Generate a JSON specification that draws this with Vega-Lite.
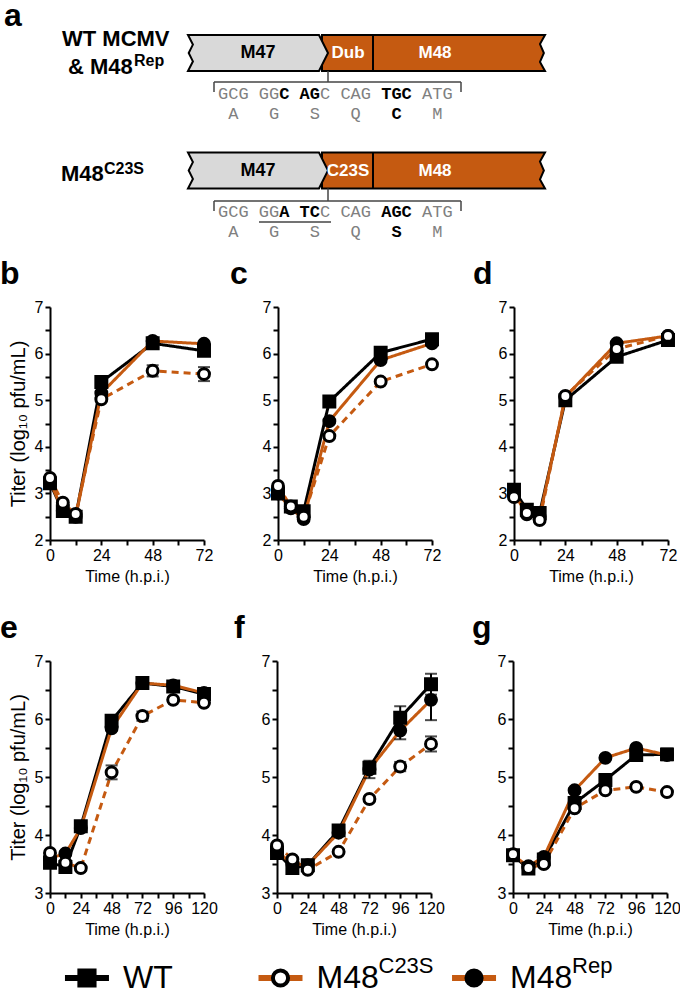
{
"$schema":"https://vega.github.io/schema/vega-lite/v6.json",
"padding":0,
"background":"white",
"columns":1,
"align":"none",
"spacing":18,
"resolve":{"scale":{"x":"independent","y":"independent"}},
"config":{
 "view":{"stroke":null},
 "font":"Liberation Sans",
 "legend":{"disable":true},
 "title":{"fontSize":32,"fontWeight":"bold","anchor":"start","frame":"group","offset":8,"color":"black","font":"Liberation Sans"},
 "axis":{"domainColor":"black","domainWidth":2,"tickColor":"black","tickWidth":2,"tickSize":5,"labelFontSize":16,"labelColor":"black","labelPadding":2,"titleFontSize":16,"titleFontWeight":"normal","titleColor":"black","grid":false,"labelOverlap":false,"labelFont":"Liberation Sans","titleFont":"Liberation Sans"},
 "axisX":{"titlePadding":5,"labelFlush":false},
 "axisY":{"titlePadding":6,"titleFontSize":20}
},
"datasets":{
 "growth":[
  {"panel":"b","virus":"WT","time":0,"titer":3.22,"err":0.04},{"panel":"b","virus":"WT","time":6,"titer":2.62,"err":0.04},{"panel":"b","virus":"WT","time":12,"titer":2.5,"err":0.04},{"panel":"b","virus":"WT","time":24,"titer":5.39,"err":0.04},{"panel":"b","virus":"WT","time":48,"titer":6.22,"err":0.04},{"panel":"b","virus":"WT","time":72,"titer":6.06,"err":0.04},
  {"panel":"b","virus":"M48Rep","time":0,"titer":3.26,"err":0.04},{"panel":"b","virus":"M48Rep","time":6,"titer":2.62,"err":0.04},{"panel":"b","virus":"M48Rep","time":12,"titer":2.5,"err":0.04},{"panel":"b","virus":"M48Rep","time":24,"titer":5.15,"err":0.04},{"panel":"b","virus":"M48Rep","time":48,"titer":6.27,"err":0.04},{"panel":"b","virus":"M48Rep","time":72,"titer":6.21,"err":0.04},
  {"panel":"b","virus":"M48C23S","time":0,"titer":3.33,"err":0.04},{"panel":"b","virus":"M48C23S","time":6,"titer":2.8,"err":0.04},{"panel":"b","virus":"M48C23S","time":12,"titer":2.56,"err":0.04},{"panel":"b","virus":"M48C23S","time":24,"titer":5.02,"err":0.04},{"panel":"b","virus":"M48C23S","time":48,"titer":5.63,"err":0.12},{"panel":"b","virus":"M48C23S","time":72,"titer":5.56,"err":0.15},
  {"panel":"c","virus":"WT","time":0,"titer":3.0,"err":0.04},{"panel":"c","virus":"WT","time":6,"titer":2.72,"err":0.04},{"panel":"c","virus":"WT","time":12,"titer":2.62,"err":0.04},{"panel":"c","virus":"WT","time":24,"titer":4.97,"err":0.04},{"panel":"c","virus":"WT","time":48,"titer":6.02,"err":0.04},{"panel":"c","virus":"WT","time":72,"titer":6.31,"err":0.04},
  {"panel":"c","virus":"M48Rep","time":0,"titer":3.0,"err":0.04},{"panel":"c","virus":"M48Rep","time":6,"titer":2.68,"err":0.04},{"panel":"c","virus":"M48Rep","time":12,"titer":2.45,"err":0.04},{"panel":"c","virus":"M48Rep","time":24,"titer":4.55,"err":0.04},{"panel":"c","virus":"M48Rep","time":48,"titer":5.86,"err":0.04},{"panel":"c","virus":"M48Rep","time":72,"titer":6.22,"err":0.04},
  {"panel":"c","virus":"M48C23S","time":0,"titer":3.16,"err":0.04},{"panel":"c","virus":"M48C23S","time":6,"titer":2.72,"err":0.04},{"panel":"c","virus":"M48C23S","time":12,"titer":2.5,"err":0.04},{"panel":"c","virus":"M48C23S","time":24,"titer":4.23,"err":0.04},{"panel":"c","virus":"M48C23S","time":48,"titer":5.4,"err":0.04},{"panel":"c","virus":"M48C23S","time":72,"titer":5.77,"err":0.04},
  {"panel":"d","virus":"WT","time":0,"titer":3.08,"err":0.04},{"panel":"d","virus":"WT","time":6,"titer":2.65,"err":0.04},{"panel":"d","virus":"WT","time":12,"titer":2.58,"err":0.04},{"panel":"d","virus":"WT","time":24,"titer":5.0,"err":0.04},{"panel":"d","virus":"WT","time":48,"titer":5.93,"err":0.04},{"panel":"d","virus":"WT","time":72,"titer":6.29,"err":0.04},
  {"panel":"d","virus":"M48Rep","time":0,"titer":3.0,"err":0.04},{"panel":"d","virus":"M48Rep","time":6,"titer":2.55,"err":0.04},{"panel":"d","virus":"M48Rep","time":12,"titer":2.5,"err":0.04},{"panel":"d","virus":"M48Rep","time":24,"titer":5.07,"err":0.04},{"panel":"d","virus":"M48Rep","time":48,"titer":6.22,"err":0.04},{"panel":"d","virus":"M48Rep","time":72,"titer":6.38,"err":0.04},
  {"panel":"d","virus":"M48C23S","time":0,"titer":2.92,"err":0.04},{"panel":"d","virus":"M48C23S","time":6,"titer":2.58,"err":0.04},{"panel":"d","virus":"M48C23S","time":12,"titer":2.43,"err":0.04},{"panel":"d","virus":"M48C23S","time":24,"titer":5.09,"err":0.04},{"panel":"d","virus":"M48C23S","time":48,"titer":6.1,"err":0.04},{"panel":"d","virus":"M48C23S","time":72,"titer":6.38,"err":0.04},
  {"panel":"e","virus":"WT","time":0,"titer":3.52,"err":0.04},{"panel":"e","virus":"WT","time":12,"titer":3.45,"err":0.04},{"panel":"e","virus":"WT","time":24,"titer":4.15,"err":0.04},{"panel":"e","virus":"WT","time":48,"titer":5.97,"err":0.04},{"panel":"e","virus":"WT","time":72,"titer":6.62,"err":0.04},{"panel":"e","virus":"WT","time":96,"titer":6.56,"err":0.04},{"panel":"e","virus":"WT","time":120,"titer":6.43,"err":0.04},
  {"panel":"e","virus":"M48Rep","time":0,"titer":3.6,"err":0.04},{"panel":"e","virus":"M48Rep","time":12,"titer":3.68,"err":0.04},{"panel":"e","virus":"M48Rep","time":24,"titer":4.12,"err":0.04},{"panel":"e","virus":"M48Rep","time":48,"titer":5.84,"err":0.04},{"panel":"e","virus":"M48Rep","time":72,"titer":6.62,"err":0.04},{"panel":"e","virus":"M48Rep","time":96,"titer":6.58,"err":0.04},{"panel":"e","virus":"M48Rep","time":120,"titer":6.45,"err":0.04},
  {"panel":"e","virus":"M48C23S","time":0,"titer":3.69,"err":0.04},{"panel":"e","virus":"M48C23S","time":12,"titer":3.52,"err":0.04},{"panel":"e","virus":"M48C23S","time":24,"titer":3.43,"err":0.04},{"panel":"e","virus":"M48C23S","time":48,"titer":5.08,"err":0.12},{"panel":"e","virus":"M48C23S","time":72,"titer":6.05,"err":0.08},{"panel":"e","virus":"M48C23S","time":96,"titer":6.33,"err":0.04},{"panel":"e","virus":"M48C23S","time":120,"titer":6.28,"err":0.04},
  {"panel":"f","virus":"WT","time":0,"titer":3.69,"err":0.04},{"panel":"f","virus":"WT","time":12,"titer":3.43,"err":0.04},{"panel":"f","virus":"WT","time":24,"titer":3.48,"err":0.04},{"panel":"f","virus":"WT","time":48,"titer":4.08,"err":0.04},{"panel":"f","virus":"WT","time":72,"titer":5.16,"err":0.04},{"panel":"f","virus":"WT","time":96,"titer":6.02,"err":0.2},{"panel":"f","virus":"WT","time":120,"titer":6.6,"err":0.18},
  {"panel":"f","virus":"M48Rep","time":0,"titer":3.72,"err":0.04},{"panel":"f","virus":"M48Rep","time":12,"titer":3.5,"err":0.04},{"panel":"f","virus":"M48Rep","time":24,"titer":3.48,"err":0.04},{"panel":"f","virus":"M48Rep","time":48,"titer":4.04,"err":0.04},{"panel":"f","virus":"M48Rep","time":72,"titer":5.13,"err":0.15},{"panel":"f","virus":"M48Rep","time":96,"titer":5.8,"err":0.15},{"panel":"f","virus":"M48Rep","time":120,"titer":6.33,"err":0.35},
  {"panel":"f","virus":"M48C23S","time":0,"titer":3.82,"err":0.04},{"panel":"f","virus":"M48C23S","time":12,"titer":3.58,"err":0.04},{"panel":"f","virus":"M48C23S","time":24,"titer":3.4,"err":0.04},{"panel":"f","virus":"M48C23S","time":48,"titer":3.71,"err":0.04},{"panel":"f","virus":"M48C23S","time":72,"titer":4.62,"err":0.04},{"panel":"f","virus":"M48C23S","time":96,"titer":5.18,"err":0.08},{"panel":"f","virus":"M48C23S","time":120,"titer":5.57,"err":0.13},
  {"panel":"g","virus":"WT","time":0,"titer":3.65,"err":0.04},{"panel":"g","virus":"WT","time":12,"titer":3.42,"err":0.04},{"panel":"g","virus":"WT","time":24,"titer":3.58,"err":0.04},{"panel":"g","virus":"WT","time":48,"titer":4.55,"err":0.04},{"panel":"g","virus":"WT","time":72,"titer":4.95,"err":0.1},{"panel":"g","virus":"WT","time":96,"titer":5.38,"err":0.04},{"panel":"g","virus":"WT","time":120,"titer":5.39,"err":0.1},
  {"panel":"g","virus":"M48Rep","time":0,"titer":3.65,"err":0.04},{"panel":"g","virus":"M48Rep","time":12,"titer":3.46,"err":0.04},{"panel":"g","virus":"M48Rep","time":24,"titer":3.62,"err":0.04},{"panel":"g","virus":"M48Rep","time":48,"titer":4.77,"err":0.04},{"panel":"g","virus":"M48Rep","time":72,"titer":5.33,"err":0.04},{"panel":"g","virus":"M48Rep","time":96,"titer":5.5,"err":0.04},{"panel":"g","virus":"M48Rep","time":120,"titer":5.38,"err":0.08},
  {"panel":"g","virus":"M48C23S","time":0,"titer":3.67,"err":0.04},{"panel":"g","virus":"M48C23S","time":12,"titer":3.43,"err":0.04},{"panel":"g","virus":"M48C23S","time":24,"titer":3.5,"err":0.04},{"panel":"g","virus":"M48C23S","time":48,"titer":4.46,"err":0.04},{"panel":"g","virus":"M48C23S","time":72,"titer":4.77,"err":0.04},{"panel":"g","virus":"M48C23S","time":96,"titer":4.83,"err":0.04},{"panel":"g","virus":"M48C23S","time":120,"titer":4.74,"err":0.04}
 ],
 "cells":[
  {"panel":"b","cell":"NIH3T3:"},{"panel":"c","cell":"SVEC4-10:"},{"panel":"d","cell":"RAW264.7:"},
  {"panel":"e","cell":"NIH3T3:"},{"panel":"f","cell":"SVEC4-10:"},{"panel":"g","cell":"RAW264.7:"}
 ],
 "genes":[
  {"part":"orf","x":433.5,"y":49},{"part":"orf","x":433.5,"y":166.5},
  {"part":"m47","x":258,"y":49},{"part":"m47","x":258,"y":166.5}
 ],
 "segments":[
  {"kind":"divider","x":373,"x2":373,"y":31,"y2":67},
  {"kind":"divider","x":373,"x2":373,"y":148.5,"y2":184.5},
  {"kind":"line","x":328,"x2":328,"y":67,"y2":78},
  {"kind":"line","x":214,"x2":461,"y":78,"y2":78},
  {"kind":"line","x":214,"x2":214,"y":78,"y2":88},
  {"kind":"line","x":461,"x2":461,"y":78,"y2":88},
  {"kind":"line","x":328,"x2":328,"y":184.5,"y2":197},
  {"kind":"line","x":214,"x2":461,"y":197,"y2":197},
  {"kind":"line","x":214,"x2":214,"y":197,"y2":207},
  {"kind":"line","x":461,"x2":461,"y":197,"y2":207},
  {"kind":"line","x":259,"x2":331,"y":218,"y2":218}
 ],
 "alabels":[
  {"role":"panel","text":"a","x":4,"y":22},
  {"role":"track","text":"WT MCMV","x":62,"y":42},
  {"role":"track","text":"& M48","x":68,"y":70},
  {"role":"track","text":"M48","x":61,"y":177},
  {"role":"sup","text":"Rep","x":134,"y":62},
  {"role":"sup","text":"C23S","x":104,"y":170},
  {"role":"gene","text":"M47","x":258,"y":49},
  {"role":"gene","text":"M47","x":258,"y":166.5},
  {"role":"domain","text":"Dub","x":348,"y":49},
  {"role":"domain","text":"M48","x":435,"y":49},
  {"role":"domain","text":"C23S","x":348,"y":166.5},
  {"role":"domain","text":"M48","x":435,"y":166.5}
 ],
 "seq":[
  {"style":"reg","text":"GCG\u00a0GG","x":218,"y":90},
  {"style":"bold","text":"C\u00a0AG","x":279.2,"y":90},
  {"style":"reg","text":"C\u00a0CAG","x":320,"y":90},
  {"style":"bold","text":"TGC","x":381.2,"y":90},
  {"style":"reg","text":"ATG","x":422,"y":90},
  {"style":"reg","text":"A\u00a0\u00a0\u00a0G\u00a0\u00a0\u00a0S\u00a0\u00a0\u00a0Q","x":228.2,"y":110},
  {"style":"bold","text":"C","x":391.4,"y":110},
  {"style":"reg","text":"M","x":432.2,"y":110},
  {"style":"reg","text":"GCG\u00a0GG","x":218,"y":208},
  {"style":"bold","text":"A\u00a0TC","x":279.2,"y":208},
  {"style":"reg","text":"C\u00a0CAG","x":320,"y":208},
  {"style":"bold","text":"AGC","x":381.2,"y":208},
  {"style":"reg","text":"ATG","x":422,"y":208},
  {"style":"reg","text":"A\u00a0\u00a0\u00a0G\u00a0\u00a0\u00a0S\u00a0\u00a0\u00a0Q","x":228.2,"y":228},
  {"style":"bold","text":"S","x":391.4,"y":228},
  {"style":"reg","text":"M","x":432.2,"y":228}
 ],
 "legend":[
  {"virus":"WT","label":"WT","sup":""},
  {"virus":"M48C23S","label":"M48","sup":"C23S"},
  {"virus":"M48Rep","label":"M48","sup":"Rep"}
 ]
},
"concat":[
 {
  "width":630,"height":236,
  "encoding":{
   "x":{"field":"x","type":"quantitative","scale":{"domain":[50,680],"nice":false,"zero":false},"axis":null},
   "y":{"field":"y","type":"quantitative","scale":{"domain":[0,236],"nice":false,"zero":false,"reverse":true},"axis":null}
  },
  "layer":[
   {"data":{"name":"genes"},"transform":[{"filter":"datum.part === 'orf'"}],
    "mark":{"type":"point","shape":"M-1,-0.1614L1,-0.1614L0.955,-0.08L0.99,0L0.955,0.08L1,0.1614L-1,0.1614Z","size":49729,"filled":true,"fill":"#C55A11","stroke":"black","strokeWidth":2,"opacity":1}},
   {"data":{"name":"genes"},"transform":[{"filter":"datum.part === 'm47'"}],
    "mark":{"type":"point","shape":"M-1,-0.257L0.871,-0.257L1,0L0.871,0.257L-1,0.257L-0.93,0.12L-0.99,0L-0.93,-0.12Z","size":19600,"filled":true,"fill":"#D9D9D9","stroke":"black","strokeWidth":2,"opacity":1}},
   {"data":{"name":"segments"},"transform":[{"filter":"datum.kind === 'divider'"}],
    "mark":{"type":"rule","color":"black","strokeWidth":2},
    "encoding":{"x2":{"field":"x2"},"y2":{"field":"y2"}}},
   {"data":{"name":"segments"},"transform":[{"filter":"datum.kind === 'line'"}],
    "mark":{"type":"rule","color":"#444444","strokeWidth":1.5},
    "encoding":{"x2":{"field":"x2"},"y2":{"field":"y2"}}},
   {"data":{"name":"alabels"},"transform":[{"filter":"datum.role === 'panel'"}],
    "mark":{"type":"text","align":"left","baseline":"alphabetic","fontSize":32,"fontWeight":"bold","color":"black"},
    "encoding":{"text":{"field":"text"}}},
   {"data":{"name":"alabels"},"transform":[{"filter":"datum.role === 'track'"}],
    "mark":{"type":"text","align":"left","baseline":"alphabetic","fontSize":22,"fontWeight":"bold","color":"black"},
    "encoding":{"text":{"field":"text"}}},
   {"data":{"name":"alabels"},"transform":[{"filter":"datum.role === 'sup'"}],
    "mark":{"type":"text","align":"left","baseline":"alphabetic","fontSize":16,"fontWeight":"bold","color":"black"},
    "encoding":{"text":{"field":"text"}}},
   {"data":{"name":"alabels"},"transform":[{"filter":"datum.role === 'gene'"}],
    "mark":{"type":"text","align":"center","baseline":"middle","fontSize":18,"fontWeight":"bold","color":"black"},
    "encoding":{"text":{"field":"text"}}},
   {"data":{"name":"alabels"},"transform":[{"filter":"datum.role === 'domain'"}],
    "mark":{"type":"text","align":"center","baseline":"middle","fontSize":17,"fontWeight":"bold","color":"white"},
    "encoding":{"text":{"field":"text"}}},
   {"data":{"name":"seq"},"transform":[{"filter":"datum.style === 'reg'"}],
    "mark":{"type":"text","align":"left","baseline":"middle","fontSize":17,"font":"Liberation Mono","color":"#808080"},
    "encoding":{"text":{"field":"text"}}},
   {"data":{"name":"seq"},"transform":[{"filter":"datum.style === 'bold'"}],
    "mark":{"type":"text","align":"left","baseline":"middle","fontSize":17,"font":"Liberation Mono","fontWeight":"bold","color":"black"},
    "encoding":{"text":{"field":"text"}}}
  ]
 },
 {
  "columns":1,
  "align":"none",
  "spacing":28,
  "resolve":{"scale":{"x":"independent","y":"independent"}},
  "concat":[
   {
    "spacing":14,
    "resolve":{"scale":{"x":"independent","y":"independent"}},
    "hconcat":[
     {
      "width":154,"height":233,
      "title":{"text":"b","dx":-50},
      "data":{"name":"growth"},
      "transform":[{"filter":"datum.panel === 'b'"}],
      "encoding":{
       "x":{"field":"time","type":"quantitative","scale":{"domain":[0,72],"nice":false},"axis":{"values":[0,12,24,36,48,60,72],"labelExpr":"datum.value % 24 === 0 ? datum.label : ''","title":"Time (h.p.i.)"}},
       "y":{"field":"titer","type":"quantitative","scale":{"domain":[2,7],"nice":false,"zero":false},"axis":{"values":[2,2.5,3,3.5,4,4.5,5,5.5,6,6.5,7],"labelExpr":"datum.value % 1 === 0 ? '' + datum.value : ''","title":"Titer (log\u2081\u2080 pfu/mL)"}}
      },
      "layer":[
       {"mark":{"type":"line","strokeWidth":3},"encoding":{"color":{"field":"virus","type":"nominal","scale":{"domain":["WT","M48C23S","M48Rep"],"range":["#000000","#C55A11","#C55A11"]}},"strokeDash":{"field":"virus","type":"nominal","scale":{"domain":["WT","M48C23S","M48Rep"],"range":[[1,0],[7,5],[1,0]]}}}},
       {"mark":{"type":"errorbar","ticks":{"size":12,"thickness":2,"color":"black"},"thickness":2,"color":"black"},"encoding":{"yError":{"field":"err"}}},
       {"mark":{"type":"point","size":120,"filled":true,"stroke":"black","strokeWidth":3,"opacity":1},"encoding":{"shape":{"field":"virus","type":"nominal","scale":{"domain":["WT","M48C23S","M48Rep"],"range":["square","circle","circle"]}},"fill":{"field":"virus","type":"nominal","scale":{"domain":["WT","M48C23S","M48Rep"],"range":["#000000","#ffffff","#000000"]}}}},
       {"data":{"name":"cells"},"transform":[{"filter":"datum.panel === 'b'"}],"mark":{"type":"text","align":"left","baseline":"alphabetic","dx":7,"dy":20,"fontSize":16,"color":"black"},"encoding":{"x":{"datum":0},"y":{"datum":7},"text":{"field":"cell"}}}
      ]
     },
     {
      "spacing":29,
      "resolve":{"scale":{"x":"independent","y":"independent"}},
      "hconcat":[
       {
        "width":154,"height":233,
        "title":{"text":"c","dx":-48},
        "data":{"name":"growth"},
        "transform":[{"filter":"datum.panel === 'c'"}],
        "encoding":{
         "x":{"field":"time","type":"quantitative","scale":{"domain":[0,72],"nice":false},"axis":{"values":[0,12,24,36,48,60,72],"labelExpr":"datum.value % 24 === 0 ? datum.label : ''","title":"Time (h.p.i.)"}},
         "y":{"field":"titer","type":"quantitative","scale":{"domain":[2,7],"nice":false,"zero":false},"axis":{"values":[2,2.5,3,3.5,4,4.5,5,5.5,6,6.5,7],"labelExpr":"datum.value % 1 === 0 ? '' + datum.value : ''","title":null}}
        },
        "layer":[
         {"mark":{"type":"line","strokeWidth":3},"encoding":{"color":{"field":"virus","type":"nominal","scale":{"domain":["WT","M48C23S","M48Rep"],"range":["#000000","#C55A11","#C55A11"]}},"strokeDash":{"field":"virus","type":"nominal","scale":{"domain":["WT","M48C23S","M48Rep"],"range":[[1,0],[7,5],[1,0]]}}}},
         {"mark":{"type":"errorbar","ticks":{"size":12,"thickness":2,"color":"black"},"thickness":2,"color":"black"},"encoding":{"yError":{"field":"err"}}},
         {"mark":{"type":"point","size":120,"filled":true,"stroke":"black","strokeWidth":3,"opacity":1},"encoding":{"shape":{"field":"virus","type":"nominal","scale":{"domain":["WT","M48C23S","M48Rep"],"range":["square","circle","circle"]}},"fill":{"field":"virus","type":"nominal","scale":{"domain":["WT","M48C23S","M48Rep"],"range":["#000000","#ffffff","#000000"]}}}},
         {"data":{"name":"cells"},"transform":[{"filter":"datum.panel === 'c'"}],"mark":{"type":"text","align":"left","baseline":"alphabetic","dx":7,"dy":20,"fontSize":16,"color":"black"},"encoding":{"x":{"datum":0},"y":{"datum":7},"text":{"field":"cell"}}}
        ]
       },
       {
        "width":154,"height":233,
        "title":{"text":"d","dx":-41},
        "data":{"name":"growth"},
        "transform":[{"filter":"datum.panel === 'd'"}],
        "encoding":{
         "x":{"field":"time","type":"quantitative","scale":{"domain":[0,72],"nice":false},"axis":{"values":[0,12,24,36,48,60,72],"labelExpr":"datum.value % 24 === 0 ? datum.label : ''","title":"Time (h.p.i.)"}},
         "y":{"field":"titer","type":"quantitative","scale":{"domain":[2,7],"nice":false,"zero":false},"axis":{"values":[2,2.5,3,3.5,4,4.5,5,5.5,6,6.5,7],"labelExpr":"datum.value % 1 === 0 ? '' + datum.value : ''","title":null}}
        },
        "layer":[
         {"mark":{"type":"line","strokeWidth":3},"encoding":{"color":{"field":"virus","type":"nominal","scale":{"domain":["WT","M48C23S","M48Rep"],"range":["#000000","#C55A11","#C55A11"]}},"strokeDash":{"field":"virus","type":"nominal","scale":{"domain":["WT","M48C23S","M48Rep"],"range":[[1,0],[7,5],[1,0]]}}}},
         {"mark":{"type":"errorbar","ticks":{"size":12,"thickness":2,"color":"black"},"thickness":2,"color":"black"},"encoding":{"yError":{"field":"err"}}},
         {"mark":{"type":"point","size":120,"filled":true,"stroke":"black","strokeWidth":3,"opacity":1},"encoding":{"shape":{"field":"virus","type":"nominal","scale":{"domain":["WT","M48C23S","M48Rep"],"range":["square","circle","circle"]}},"fill":{"field":"virus","type":"nominal","scale":{"domain":["WT","M48C23S","M48Rep"],"range":["#000000","#ffffff","#000000"]}}}},
         {"data":{"name":"cells"},"transform":[{"filter":"datum.panel === 'd'"}],"mark":{"type":"text","align":"left","baseline":"alphabetic","dx":7,"dy":20,"fontSize":16,"color":"black"},"encoding":{"x":{"datum":0},"y":{"datum":7},"text":{"field":"cell"}}}
        ]
       }
      ]
     }
    ]
   },
   {
    "spacing":16,
    "resolve":{"scale":{"x":"independent","y":"independent"}},
    "hconcat":[
     {
      "width":154,"height":232,
      "title":{"text":"e","dx":-50},
      "data":{"name":"growth"},
      "transform":[{"filter":"datum.panel === 'e'"}],
      "encoding":{
       "x":{"field":"time","type":"quantitative","scale":{"domain":[0,120],"nice":false},"axis":{"values":[0,12,24,36,48,60,72,84,96,108,120],"labelExpr":"datum.value % 24 === 0 ? datum.label : ''","title":"Time (h.p.i.)"}},
       "y":{"field":"titer","type":"quantitative","scale":{"domain":[3,7],"nice":false,"zero":false},"axis":{"values":[3,3.5,4,4.5,5,5.5,6,6.5,7],"labelExpr":"datum.value % 1 === 0 ? '' + datum.value : ''","title":"Titer (log\u2081\u2080 pfu/mL)"}}
      },
      "layer":[
       {"mark":{"type":"line","strokeWidth":3},"encoding":{"color":{"field":"virus","type":"nominal","scale":{"domain":["WT","M48C23S","M48Rep"],"range":["#000000","#C55A11","#C55A11"]}},"strokeDash":{"field":"virus","type":"nominal","scale":{"domain":["WT","M48C23S","M48Rep"],"range":[[1,0],[7,5],[1,0]]}}}},
       {"mark":{"type":"errorbar","ticks":{"size":12,"thickness":2,"color":"black"},"thickness":2,"color":"black"},"encoding":{"yError":{"field":"err"}}},
       {"mark":{"type":"point","size":120,"filled":true,"stroke":"black","strokeWidth":3,"opacity":1},"encoding":{"shape":{"field":"virus","type":"nominal","scale":{"domain":["WT","M48C23S","M48Rep"],"range":["square","circle","circle"]}},"fill":{"field":"virus","type":"nominal","scale":{"domain":["WT","M48C23S","M48Rep"],"range":["#000000","#ffffff","#000000"]}}}},
       {"data":{"name":"cells"},"transform":[{"filter":"datum.panel === 'e'"}],"mark":{"type":"text","align":"left","baseline":"alphabetic","dx":7,"dy":20,"fontSize":16,"color":"black"},"encoding":{"x":{"datum":0},"y":{"datum":7},"text":{"field":"cell"}}}
      ]
     },
     {
      "spacing":27,
      "resolve":{"scale":{"x":"independent","y":"independent"}},
      "hconcat":[
       {
        "width":154,"height":232,
        "title":{"text":"f","dx":-43},
        "data":{"name":"growth"},
        "transform":[{"filter":"datum.panel === 'f'"}],
        "encoding":{
         "x":{"field":"time","type":"quantitative","scale":{"domain":[0,120],"nice":false},"axis":{"values":[0,12,24,36,48,60,72,84,96,108,120],"labelExpr":"datum.value % 24 === 0 ? datum.label : ''","title":"Time (h.p.i.)"}},
         "y":{"field":"titer","type":"quantitative","scale":{"domain":[3,7],"nice":false,"zero":false},"axis":{"values":[3,3.5,4,4.5,5,5.5,6,6.5,7],"labelExpr":"datum.value % 1 === 0 ? '' + datum.value : ''","title":null}}
        },
        "layer":[
         {"mark":{"type":"line","strokeWidth":3},"encoding":{"color":{"field":"virus","type":"nominal","scale":{"domain":["WT","M48C23S","M48Rep"],"range":["#000000","#C55A11","#C55A11"]}},"strokeDash":{"field":"virus","type":"nominal","scale":{"domain":["WT","M48C23S","M48Rep"],"range":[[1,0],[7,5],[1,0]]}}}},
         {"mark":{"type":"errorbar","ticks":{"size":12,"thickness":2,"color":"black"},"thickness":2,"color":"black"},"encoding":{"yError":{"field":"err"}}},
         {"mark":{"type":"point","size":120,"filled":true,"stroke":"black","strokeWidth":3,"opacity":1},"encoding":{"shape":{"field":"virus","type":"nominal","scale":{"domain":["WT","M48C23S","M48Rep"],"range":["square","circle","circle"]}},"fill":{"field":"virus","type":"nominal","scale":{"domain":["WT","M48C23S","M48Rep"],"range":["#000000","#ffffff","#000000"]}}}},
         {"data":{"name":"cells"},"transform":[{"filter":"datum.panel === 'f'"}],"mark":{"type":"text","align":"left","baseline":"alphabetic","dx":7,"dy":20,"fontSize":16,"color":"black"},"encoding":{"x":{"datum":0},"y":{"datum":7},"text":{"field":"cell"}}}
        ]
       },
       {
        "width":154,"height":232,
        "title":{"text":"g","dx":-41},
        "data":{"name":"growth"},
        "transform":[{"filter":"datum.panel === 'g'"}],
        "encoding":{
         "x":{"field":"time","type":"quantitative","scale":{"domain":[0,120],"nice":false},"axis":{"values":[0,12,24,36,48,60,72,84,96,108,120],"labelExpr":"datum.value % 24 === 0 ? datum.label : ''","title":"Time (h.p.i.)"}},
         "y":{"field":"titer","type":"quantitative","scale":{"domain":[3,7],"nice":false,"zero":false},"axis":{"values":[3,3.5,4,4.5,5,5.5,6,6.5,7],"labelExpr":"datum.value % 1 === 0 ? '' + datum.value : ''","title":null}}
        },
        "layer":[
         {"mark":{"type":"line","strokeWidth":3},"encoding":{"color":{"field":"virus","type":"nominal","scale":{"domain":["WT","M48C23S","M48Rep"],"range":["#000000","#C55A11","#C55A11"]}},"strokeDash":{"field":"virus","type":"nominal","scale":{"domain":["WT","M48C23S","M48Rep"],"range":[[1,0],[7,5],[1,0]]}}}},
         {"mark":{"type":"errorbar","ticks":{"size":12,"thickness":2,"color":"black"},"thickness":2,"color":"black"},"encoding":{"yError":{"field":"err"}}},
         {"mark":{"type":"point","size":120,"filled":true,"stroke":"black","strokeWidth":3,"opacity":1},"encoding":{"shape":{"field":"virus","type":"nominal","scale":{"domain":["WT","M48C23S","M48Rep"],"range":["square","circle","circle"]}},"fill":{"field":"virus","type":"nominal","scale":{"domain":["WT","M48C23S","M48Rep"],"range":["#000000","#ffffff","#000000"]}}}},
         {"data":{"name":"cells"},"transform":[{"filter":"datum.panel === 'g'"}],"mark":{"type":"text","align":"left","baseline":"alphabetic","dx":7,"dy":20,"fontSize":16,"color":"black"},"encoding":{"x":{"datum":0},"y":{"datum":7},"text":{"field":"cell"}}}
        ]
       }
      ]
     }
    ]
   }
  ]
 },
 {
  "width":461,"height":8,
  "data":{"name":"legend"},
  "encoding":{"x":{"field":"virus","type":"nominal","scale":{"type":"point","domain":["WT","M48C23S","M48Rep"],"padding":0.191},"axis":null}},
  "layer":[
   {"mark":{"type":"point","shape":"M-1,0L1,0","size":1936,"filled":false,"strokeWidth":6,"opacity":1},"encoding":{"color":{"field":"virus","type":"nominal","scale":{"domain":["WT","M48C23S","M48Rep"],"range":["#000000","#C55A11","#C55A11"]}}}},
   {"mark":{"type":"point","size":230,"filled":true,"stroke":"black","strokeWidth":4,"opacity":1},"encoding":{"shape":{"field":"virus","type":"nominal","scale":{"domain":["WT","M48C23S","M48Rep"],"range":["square","circle","circle"]}},"fill":{"field":"virus","type":"nominal","scale":{"domain":["WT","M48C23S","M48Rep"],"range":["#000000","#ffffff","#000000"]}}}},
   {"mark":{"type":"text","align":"left","baseline":"middle","dx":36,"fontSize":32,"color":"black"},"encoding":{"text":{"field":"label"}}},
   {"mark":{"type":"text","align":"left","baseline":"middle","dx":98,"dy":-12,"fontSize":22,"color":"black"},"encoding":{"text":{"field":"sup"}}}
  ]
 }
]
}
